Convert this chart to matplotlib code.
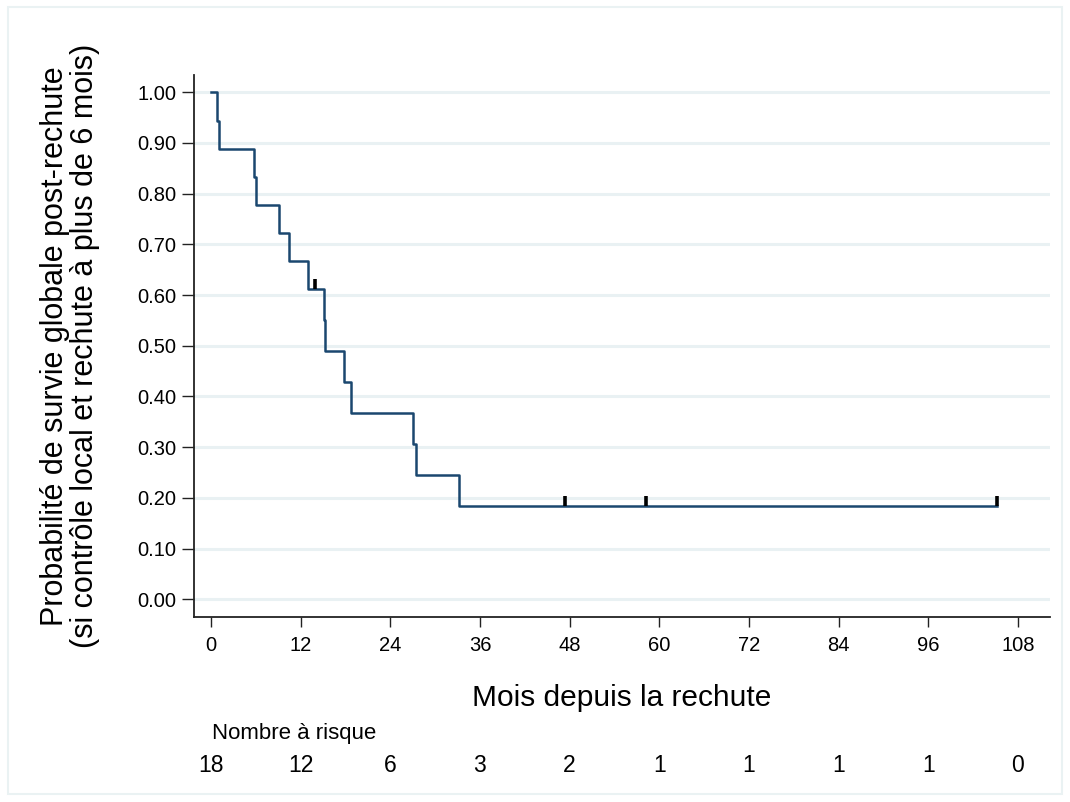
import numpy as np
import matplotlib
matplotlib.use("Agg")
import matplotlib.pyplot as plt
from matplotlib.patches import Rectangle
from matplotlib.transforms import blended_transform_factory

plt.rcParams['font.family'] = ['Liberation Sans', 'DejaVu Sans']

# Kaplan-Meier steps
times = [0, 0.76, 1.11, 5.75, 6.02, 9.14, 10.48, 12.98, 15.08, 15.26,
         17.84, 18.70, 26.99, 27.44, 33.23, 105.2]
surv = [1.0, 0.944, 0.889, 0.833, 0.778, 0.722, 0.667, 0.611, 0.550,
        0.489, 0.428, 0.367, 0.306, 0.245, 0.183, 0.183]
cens_t = [13.96, 47.4, 58.2, 105.2]
cens_s = [0.611, 0.183, 0.183, 0.183]

xticks = [0, 12, 24, 36, 48, 60, 72, 84, 96, 108]
yticks = [0.0, 0.1, 0.2, 0.3, 0.4, 0.5, 0.6, 0.7, 0.8, 0.9, 1.0]
at_risk = [18, 12, 6, 3, 2, 1, 1, 1, 1, 0]

W, H = 1070, 802
fig = plt.figure(figsize=(W / 100, H / 100), dpi=100)
ax = fig.add_axes([194 / W, 1 - 617 / H, (1050 - 194) / W, (617 - 75) / H])

for y in yticks:
    ax.axhline(y, color='#e9f1f3', lw=2.2, zorder=0)

ax.step(times, surv, where='post', color='#1a476f', lw=1.8, zorder=2)
ax.vlines(cens_t, cens_s, np.array(cens_s) + 0.021, color='black', lw=2.6, zorder=3)

ax.set_xlim(-2.275, 112.3)
ax.set_ylim(-0.035, 1.034)
ax.set_xticks(xticks)
ax.set_yticks(yticks)
ax.set_yticklabels(['%.2f' % v for v in yticks])
ax.tick_params(axis='x', length=7.5, width=1, labelsize=14.5, pad=6, color='#222222')
ax.tick_params(axis='y', length=8.5, width=1, labelsize=14.5, pad=4, color='#222222')
for s in ['top', 'right']:
    ax.spines[s].set_visible(False)
for s in ['left', 'bottom']:
    ax.spines[s].set_linewidth(1.3)
    ax.spines[s].set_color('#222222')

ax.set_xlabel('Mois depuis la rechute', fontsize=21.5, va='center')
ax.xaxis.set_label_coords(0.5, (617 - 698) / 542)
ax.set_ylabel('Probabilité de survie globale post-rechute\n(si contrôle local et rechute à plus de 6 mois)',
              fontsize=22, va='center', linespacing=0.98)
ax.yaxis.set_label_coords((70 - 194) / 856, 0.5)

# number at risk table
tr = blended_transform_factory(ax.transData, fig.transFigure)
fig.text(212 / W, 1 - 733 / H, 'Nombre à risque', fontsize=16, ha='left', va='center')
for xt, n in zip(xticks, at_risk):
    ax.text(xt, 1 - 765 / H, str(n), transform=tr, fontsize=16.5, ha='center', va='center')

fig.patches.append(Rectangle((8 / W, 8 / H), (1062 - 8) / W, (795 - 8) / H,
                             transform=fig.transFigure, fill=False,
                             edgecolor='#eaf2f3', lw=1.5))

fig.savefig('out.png', dpi=100)
